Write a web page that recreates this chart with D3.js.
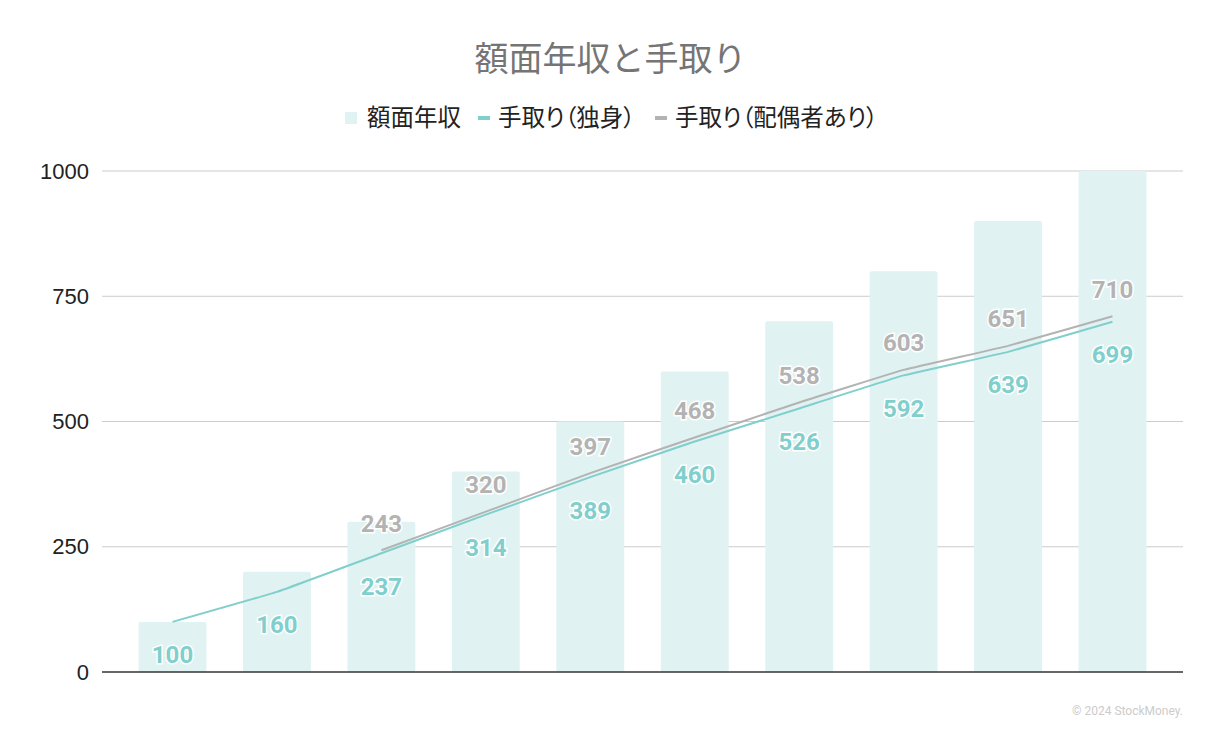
<!DOCTYPE html>
<html>
<head>
<meta charset="utf-8">
<script src="https://cdn.jsdelivr.net/npm/d3@7"></script>
<style>
  body { margin: 0; background: #fff; }
  svg { display: block; }
</style>
</head>
<body>
<svg id="chart"></svg>
<script>
// data
const categories = ['100', '200', '300', '400', '500', '600', '700', '800', '900', '1000'];
const grossIncome = [100, 200, 300, 400, 500, 600, 700, 800, 900, 1000];
const netSingle = [100, 160, 237, 314, 389, 460, 526, 592, 639, 699];
const netMarried = [null, null, 243, 320, 397, 468, 538, 603, 651, 710];
const yTicks = [0, 250, 500, 750, 1000];

const seriesNames = ['額面年収', '手取り（独身）', '手取り（配偶者あり）'];
const colors = { bar: '#e0f2f2', single: '#80cfcc', married: '#b3b3b3' };

const width = 1221, height = 756;
const margin = { top: 171, right: 38, bottom: 84, left: 102 };
const innerW = width - margin.left - margin.right;
const innerH = height - margin.top - margin.bottom;

const svg = d3.select('#chart')
    .attr('width', width)
    .attr('height', height);

// title
svg.append('text')
    .attr('x', width / 2)
    .attr('y', 71)
    .attr('text-anchor', 'middle')
    .attr('font-family', '"Noto Sans CJK JP", sans-serif')
    .attr('font-size', 34)
    .attr('fill', '#757575')
    .text('額面年収と手取り');

// legend
const legend = svg.append('g').attr('transform', 'translate(345, 118)');
const legendItems = [
    { name: seriesNames[0], type: 'rect', color: colors.bar, x: 0 },
    { name: seriesNames[1], type: 'line', color: colors.single, x: 133 },
    { name: seriesNames[2], type: 'line', color: colors.married, x: 310 }
];
legendItems.forEach(d => {
    const g = legend.append('g').attr('transform', `translate(${d.x}, 0)`);
    if (d.type === 'rect') {
        g.append('rect').attr('x', 0).attr('y', -6).attr('width', 12).attr('height', 12).attr('fill', d.color);
    } else {
        g.append('rect').attr('x', 0).attr('y', -2).attr('width', 12).attr('height', 4).attr('fill', d.color);
    }
    g.append('text')
        .attr('x', d.type === 'rect' ? 22 : 20)
        .attr('y', 0)
        .attr('dy', '0.35em')
        .attr('font-family', '"Noto Sans CJK JP", sans-serif')
        .attr('font-size', 23.5)
        .attr('fill', '#222')
        .style('font-feature-settings', '"palt"')
        .text(d.name);
});

const chart = svg.append('g')
    .attr('transform', `translate(${margin.left}, ${margin.top})`);

// scales
const xScale = d3.scaleBand()
    .domain(categories)
    .range([0, innerW])
    .padding(0.35);

const yScale = d3.scaleLinear()
    .domain([0, 1000])
    .range([innerH, 0]);

// gridlines
chart.append('g')
    .selectAll('line')
    .data(yTicks.filter(d => d > 0))
    .enter()
    .append('line')
        .attr('x1', 0)
        .attr('x2', innerW)
        .attr('y1', d => yScale(d))
        .attr('y2', d => yScale(d))
        .attr('stroke', '#cccccc')
        .attr('stroke-width', 1);

// y axis labels
const yAxis = d3.axisLeft(yScale).tickValues(yTicks).tickFormat(d3.format('d')).tickSize(0).tickPadding(13);
const yAxisG = chart.append('g').call(yAxis);
yAxisG.select('.domain').remove();
yAxisG.selectAll('text')
    .attr('font-family', 'Arial, "Liberation Sans", sans-serif')
    .attr('font-size', 22)
    .attr('fill', '#222');

// bars
chart.selectAll('rect.bar')
    .data(grossIncome)
    .enter()
    .append('rect')
        .attr('class', 'bar')
        .attr('x', (d, i) => xScale(categories[i]))
        .attr('y', d => yScale(d))
        .attr('width', xScale.bandwidth())
        .attr('height', d => innerH - yScale(d))
        .attr('rx', 2)
        .attr('fill', colors.bar);

// baseline
chart.append('line')
    .attr('x1', 0)
    .attr('x2', innerW)
    .attr('y1', innerH)
    .attr('y2', innerH)
    .attr('stroke', '#333')
    .attr('stroke-width', 1.3);

// lines
const cx = i => xScale(categories[i]) + xScale.bandwidth() / 2;
const line = d3.line()
    .defined(d => d !== null)
    .x((d, i) => cx(i))
    .y(d => yScale(d))
    .curve(d3.curveCardinal.tension(0.75));

chart.append('path')
    .datum(netMarried)
    .attr('d', line)
    .attr('fill', 'none')
    .attr('stroke', colors.married)
    .attr('stroke-width', 2);

chart.append('path')
    .datum(netSingle)
    .attr('d', line)
    .attr('fill', 'none')
    .attr('stroke', colors.single)
    .attr('stroke-width', 2);

// value labels
const addLabels = (data, color, offset) => {
    chart.append('g')
        .selectAll('text')
        .data(data.map((v, i) => ({ v, i })).filter(d => d.v !== null))
        .enter()
        .append('text')
            .attr('x', d => cx(d.i))
            .attr('y', d => yScale(d.v) + offset)
            .attr('dy', '0.35em')
            .attr('text-anchor', 'middle')
            .attr('font-family', 'Roboto, sans-serif')
            .attr('font-weight', 'bold')
            .attr('font-size', 24)
            .attr('fill', color)
            .attr('stroke', '#fff')
            .attr('stroke-width', 3)
            .attr('paint-order', 'stroke')
            .text(d => d.v);
};
addLabels(netMarried, colors.married, -27);
addLabels(netSingle, colors.single, 33);

// credit
svg.append('text')
    .attr('x', 1183)
    .attr('y', 715)
    .attr('text-anchor', 'end')
    .attr('font-family', 'Roboto, sans-serif')
    .attr('font-size', 12)
    .attr('fill', '#cccccc')
    .text('© 2024 StockMoney.');
</script>
</body>
</html>
